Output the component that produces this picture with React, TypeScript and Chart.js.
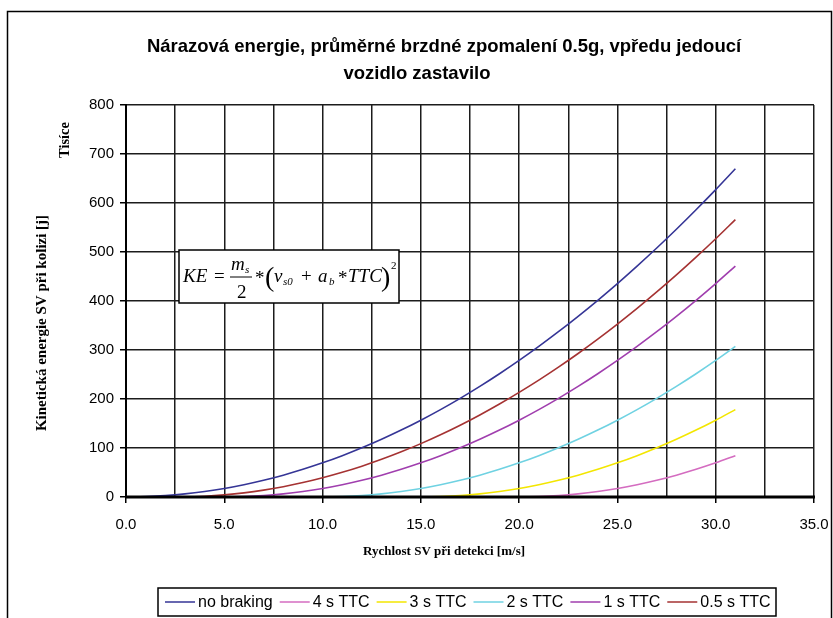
import React, { useEffect, useRef } from 'react';
import { Chart, registerables } from 'chart.js';

Chart.register(...registerables);

// ---------- data (energies in thousands of J, "Tisíce") ----------
const speeds = [0, 1, 2, 3, 4, 5, 6, 7, 8, 9, 10, 11, 12, 13, 14, 15, 16, 17, 18, 19, 20, 21, 22, 23, 24, 25, 26, 27, 28, 29, 30, 31];

const noBraking = [0, 0.7, 2.8, 6.3, 11.2, 17.4, 25.1, 34.2, 44.6, 56.5, 69.7, 84.3, 100.4, 117.8, 136.6, 156.8, 178.4, 201.4, 225.8, 251.6, 278.8, 307.4, 337.3, 368.7, 401.5, 435.6, 471.2, 508.1, 546.4, 586.2, 627.3, 669.8];
const ttc4 = [0, 0, 0, 0, 0, 0, 0, 0, 0, 0, 0, 0, 0, 0, 0, 0, 0, 0, 0, 0, 0, 0.7, 2.8, 6.3, 11.2, 17.4, 25.1, 34.2, 44.6, 56.5, 69.7, 84.3];
const ttc3 = [0, 0, 0, 0, 0, 0, 0, 0, 0, 0, 0, 0, 0, 0, 0, 0, 0.7, 2.8, 6.3, 11.2, 17.4, 25.1, 34.2, 44.6, 56.5, 69.7, 84.3, 100.4, 117.8, 136.6, 156.8, 178.4];
const ttc2 = [0, 0, 0, 0, 0, 0, 0, 0, 0, 0, 0, 0.7, 2.8, 6.3, 11.2, 17.4, 25.1, 34.2, 44.6, 56.5, 69.7, 84.3, 100.4, 117.8, 136.6, 156.8, 178.4, 201.4, 225.8, 251.6, 278.8, 307.4];
const ttc1 = [0, 0, 0, 0, 0, 0, 0.7, 2.8, 6.3, 11.2, 17.4, 25.1, 34.2, 44.6, 56.5, 69.7, 84.3, 100.4, 117.8, 136.6, 156.8, 178.4, 201.4, 225.8, 251.6, 278.8, 307.4, 337.3, 368.7, 401.5, 435.6, 471.2];
const ttc05 = [0, 0, 0, 0.2, 1.6, 4.4, 8.5, 14.1, 21.1, 29.4, 39.2, 50.4, 62.9, 76.8, 92.2, 108.9, 127.0, 146.5, 167.5, 189.8, 213.5, 238.5, 265.0, 292.9, 322.2, 352.9, 384.9, 418.4, 453.2, 489.5, 527.1, 566.1];

const seriesLabels = ['no braking', '4 s TTC', '3 s TTC', '2 s TTC', '1 s TTC', '0.5 s TTC'];
const seriesValues = [noBraking, ttc4, ttc3, ttc2, ttc1, ttc05];
const seriesColors = ['#353596', '#d46cc0', '#f3e600', '#6fd2e2', '#a03eae', '#a53232'];

const xMin = 0;
const xMax = 35;
const xStep = 2.5;
const xLabelEvery = 5;
const yMin = 0;
const yMax = 800;
const yStep = 100;

const titleLines = [
  'N\u00E1razov\u00E1 energie, pr\u016Fm\u011Brn\u00E9 brzdn\u00E9 zpomalen\u00ED 0.5g, vp\u0159edu jedouc\u00ED',
  'vozidlo zastavilo',
];
const yTitle = 'Kinetick\u00E1 energie SV p\u0159i kolizi [j]';
const yUnitLabel = 'Tis\u00EDce';
const xTitle = 'Rychlost SV p\u0159i detekci [m/s]';

const SANS = '"Liberation Sans", Arial, sans-serif';
const SERIF = '"Liberation Serif", "Times New Roman", serif';

const decorPlugin = {
  id: 'decor',
  beforeDraw(chart: any) {
    const ctx = chart.ctx;
    ctx.save();
    ctx.fillStyle = '#ffffff';
    ctx.fillRect(0, 0, chart.width, chart.height);
    ctx.restore();
  },
  afterDatasetsDraw(chart: any) {
    const ctx = chart.ctx;
    const { left, right, bottom } = chart.chartArea;
    ctx.save();
    // thick category axis drawn over the zero-valued series
    ctx.strokeStyle = '#000';
    ctx.lineWidth = 3;
    ctx.beginPath();
    ctx.moveTo(left - 1, bottom);
    ctx.lineTo(right + 1, bottom);
    ctx.stroke();

    // formula box
    const bx = 179;
    const by = 250;
    ctx.fillStyle = '#fff';
    ctx.fillRect(bx, by, 220, 53);
    ctx.strokeStyle = '#000';
    ctx.lineWidth = 1.5;
    ctx.strokeRect(bx, by, 220, 53);
    ctx.fillStyle = '#000';
    ctx.textBaseline = 'alphabetic';
    ctx.textAlign = 'left';
    const put = (t: string, dx: number, dy: number, size: number, italic: boolean) => {
      ctx.font = `${italic ? 'italic ' : ''}${size}px ${SERIF}`;
      ctx.fillText(t, bx + dx, by + dy);
    };
    put('KE', 4, 32, 19, true);
    put('=', 35, 32, 19, false);
    put('m', 52, 20, 19, true);
    put('s', 66, 23, 11, true);
    ctx.lineWidth = 1;
    ctx.beginPath();
    ctx.moveTo(bx + 51, by + 27);
    ctx.lineTo(bx + 73, by + 27);
    ctx.stroke();
    put('2', 58, 48, 19, false);
    put('*', 76, 34, 19, false);
    put('(', 86, 36, 28, false);
    put('v', 95, 32, 19, true);
    put('s0', 104, 35, 11, true);
    put('+', 122, 32, 19, false);
    put('a', 139, 32, 19, true);
    put('b', 150, 35, 11, true);
    put('*', 159, 34, 19, false);
    put('TTC', 169, 32, 19, true);
    put(')', 202, 36, 28, false);
    put('2', 212, 19, 11, false);
    ctx.restore();
  },
  afterDraw(chart: any) {
    const ctx = chart.ctx;
    ctx.save();
    ctx.fillStyle = '#000';

    // title
    ctx.font = `bold 18.5px ${SANS}`;
    ctx.textAlign = 'center';
    ctx.textBaseline = 'middle';
    ctx.fillText(titleLines[0], 444, 47);
    ctx.fillText(titleLines[1], 417, 74);

    // axis titles
    ctx.font = `bold 13px ${SERIF}`;
    ctx.fillText(xTitle, 444, 552);
    ctx.font = `bold 15px ${SERIF}`;
    ctx.save();
    ctx.translate(42, 323);
    ctx.rotate(-Math.PI / 2);
    ctx.fillText(yTitle, 0, 0);
    ctx.restore();
    ctx.font = `bold 14.5px ${SERIF}`;
    ctx.save();
    ctx.translate(65, 140);
    ctx.rotate(-Math.PI / 2);
    ctx.fillText(yUnitLabel, 0, 0);
    ctx.restore();

    // legend
    const lx0 = 158;
    const ly0 = 588;
    const lw = 618;
    const lh = 28;
    ctx.strokeStyle = '#000';
    ctx.lineWidth = 1.5;
    ctx.strokeRect(lx0, ly0, lw, lh);
    ctx.font = `16px ${SANS}`;
    ctx.textAlign = 'left';
    ctx.textBaseline = 'middle';
    let x = lx0 + 7;
    const cy = ly0 + lh / 2;
    chart.data.datasets.forEach((ds: any) => {
      ctx.strokeStyle = ds.borderColor;
      ctx.lineWidth = 1.5;
      ctx.beginPath();
      ctx.moveTo(x, cy);
      ctx.lineTo(x + 30, cy);
      ctx.stroke();
      x += 33;
      ctx.fillStyle = '#000';
      ctx.fillText(ds.label, x, cy + 1);
      x += ctx.measureText(ds.label).width + 7;
    });

    // outer frame
    ctx.strokeStyle = '#000';
    ctx.lineWidth = 1.5;
    ctx.strokeRect(7.5, 11.5, 824, 640);
    ctx.restore();
  },
};

export default function App() {
  const canvasRef = useRef<HTMLCanvasElement | null>(null);

  useEffect(() => {
    document.body.style.margin = '0';
    const canvas = canvasRef.current;
    if (!canvas) return;

    const datasets = seriesLabels.map((label, i) => ({
      label,
      data: speeds.map((s, j) => ({ x: s, y: seriesValues[i][j] })),
      borderColor: seriesColors[i],
      backgroundColor: seriesColors[i],
      borderWidth: 1.6,
      pointRadius: 0,
      fill: false,
      cubicInterpolationMode: 'monotone' as const,
    }));

    const isLabelTick = (v: number) => Math.abs(v / xLabelEvery - Math.round(v / xLabelEvery)) < 1e-9;

    const chart = new Chart(canvas, {
      type: 'line',
      data: { datasets },
      options: {
        animation: false,
        responsive: false,
        maintainAspectRatio: false,
        layout: { padding: { top: 105, right: 19, left: 0, bottom: 0 } },
        plugins: {
          legend: { display: false },
          title: { display: false },
          tooltip: { enabled: false },
        },
        scales: {
          x: {
            type: 'linear',
            min: xMin,
            max: xMax,
            ticks: {
              stepSize: xStep,
              autoSkip: false,
              maxRotation: 0,
              color: '#000',
              padding: 13,
              font: { family: SANS, size: 15 },
              callback: (v: any) => (isLabelTick(Number(v)) ? Number(v).toFixed(1) : ''),
            },
            grid: {
              color: '#1c1c1c',
              lineWidth: 1.5,
              tickLength: 6,
              tickColor: (c: any) => (c.tick && isLabelTick(c.tick.value) ? '#000' : 'rgba(0,0,0,0)'),
            },
            border: { color: '#000', width: 2 },
            afterFit: (s: any) => {
              s.height = 121;
              s.paddingRight = 0;
              s.paddingLeft = 0;
            },
          },
          y: {
            min: yMin,
            max: yMax,
            ticks: {
              stepSize: yStep,
              color: '#000',
              padding: 6,
              font: { family: SANS, size: 15 },
            },
            grid: { color: '#1c1c1c', lineWidth: 1.5, tickLength: 6, tickColor: '#000' },
            border: { color: '#000', width: 2 },
            afterFit: (s: any) => {
              s.width = 126;
            },
          },
        },
      },
      plugins: [decorPlugin],
    });

    return () => chart.destroy();
  }, []);

  return (
    <div style={{ width: 833, height: 618 }}>
      <canvas ref={canvasRef} width={833} height={618} style={{ display: 'block' }} />
    </div>
  );
}
